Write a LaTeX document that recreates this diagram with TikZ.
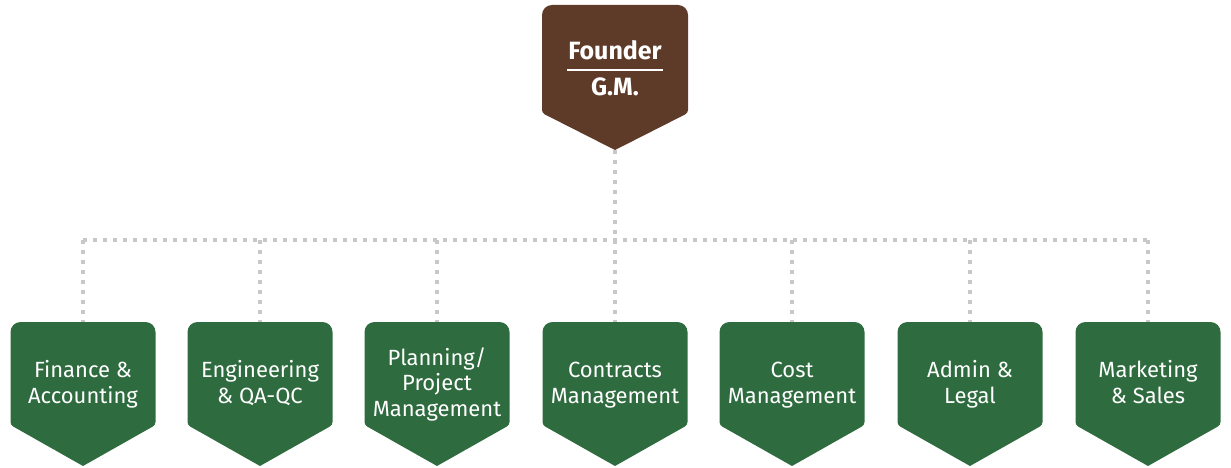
\documentclass[tikz,border=0pt]{standalone}
\usepackage{fontspec}
\setmainfont{Fira Sans}
\definecolor{brownbox}{HTML}{5E3A29}
\definecolor{greenbox}{HTML}{2E6B3E}
\definecolor{dotgray}{HTML}{C8C8C8}
\tikzset{
  conn/.style={draw=dotgray, line width=4pt, dash pattern=on 4pt off 6pt},
  deptext/.style={text=white, align=center, font=\fontsize{22}{25.5}\selectfont, inner sep=0pt},
  boss/.style={text=white, font=\fontsize{25}{28}\selectfont\bfseries, inner sep=0pt},
}
\newcommand{\chevshape}[6]{% color, cx, top, sidebottom, tip, halfwidth
  \fill[#1] (#2,#5) [rounded corners=3pt] -- (#2-#6,#4) [rounded corners=10pt] -- (#2-#6,#3) -- (#2+#6,#3) [rounded corners=3pt] -- (#2+#6,#4) [sharp corners] -- (#2,#5) -- cycle;}
\begin{document}
\begin{tikzpicture}[x=1pt,y=-1pt]
\useasboundingbox (0,0) rectangle (1231,468);
% founder
\chevshape{brownbox}{615}{5}{113}{150}{73}
\node[boss] (founder) at (615,50) {Founder};
\node[boss] (gm) at (615,87) {G.M.};
\draw[white, line width=2.5pt] (567,70) -- (663,70);
\coordinate (ftip) at (615,150);
\coordinate (busl) at (83,240);
\coordinate (busr) at (1148,240);
% departments
\foreach \cx/\name/\txt in {83/fin/{Finance \&\\Accounting}, 260/eng/{Engineering\\\& QA-QC}, 437/plan/{Planning/\\Project\\Management}, 615/con/{Contracts\\Management}, 792/cost/{Cost\\Management}, 970/adm/{Admin \&\\Legal}, 1148/mkt/{Marketing\\\& Sales}}{
  \chevshape{greenbox}{\cx}{322}{425}{466}{72.5}
  \coordinate (\name) at (\cx,322);
  \node[deptext] (\name-t) at (\cx,385.5) {\strut\txt\strut};
}
% connectors
\draw[conn] (ftip) -- (ftip |- busl);
\draw[conn] (busl) -- (busr);
\foreach \name in {fin,eng,plan,con,cost,adm,mkt}{
  \draw[conn] (\name |- busl) -- (\name);
}
\end{tikzpicture}
\end{document}
